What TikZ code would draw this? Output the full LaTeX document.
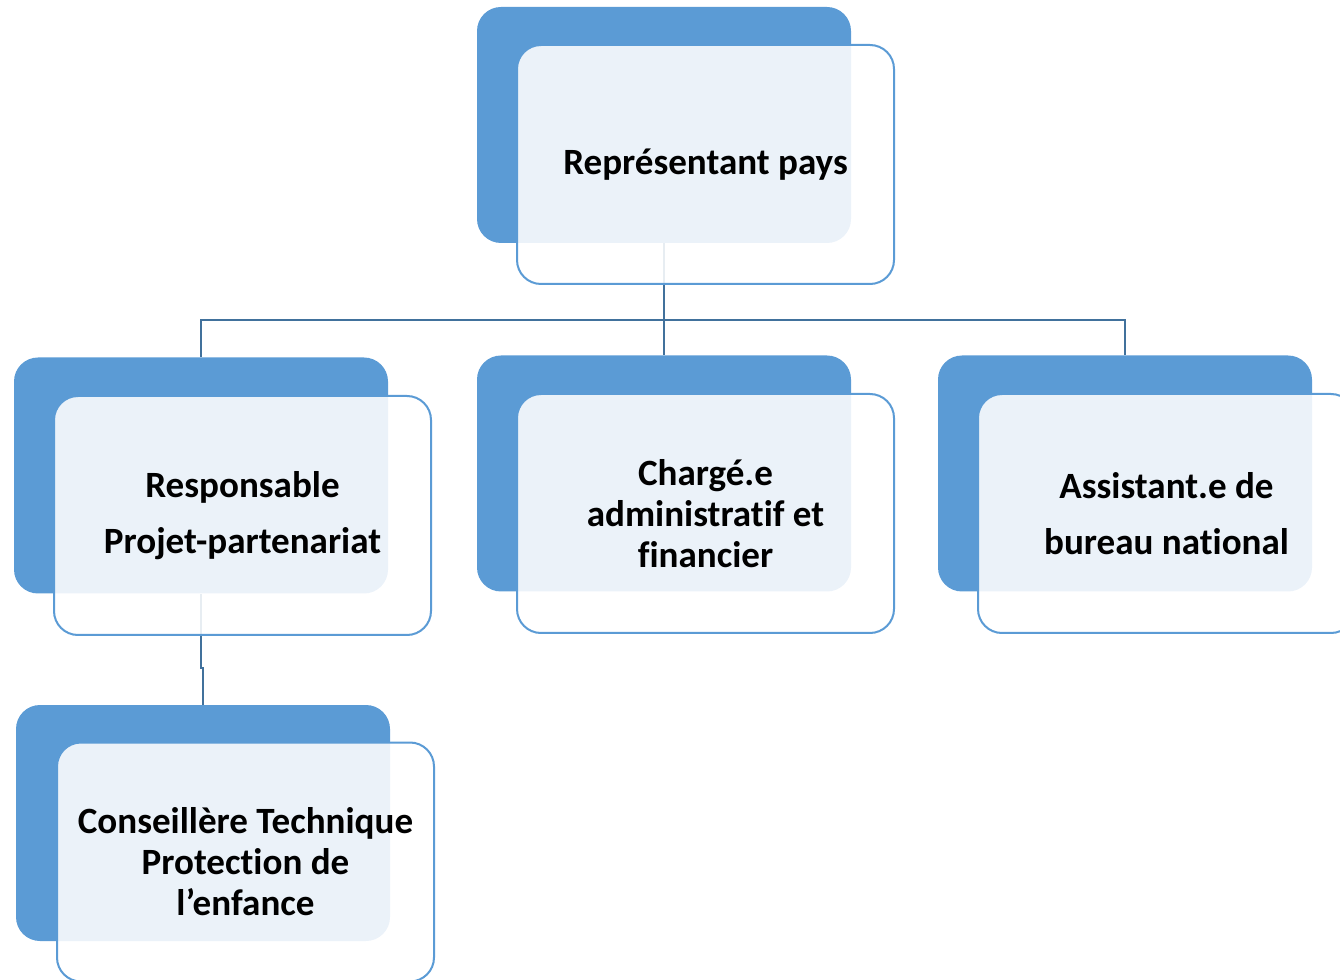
\documentclass[tikz,border=0pt]{standalone}
\usepackage{fontspec}
\setmainfont{Carlito}[Ligatures=NoCommon]
\usetikzlibrary{calc}
\definecolor{boxblue}{HTML}{5B9BD5}
\definecolor{linkblue}{HTML}{41719C}
\tikzset{every picture/.style={line width=0.75pt}}
\tikzset{
  backbox/.style={draw=none, fill=boxblue, rounded corners=18pt, minimum width=280.5pt, minimum height=177pt, inner sep=0pt},
  frontbox/.style={draw=boxblue, line width=1.5pt, fill=white, fill opacity=0.88, text opacity=1, rounded corners=18pt, minimum width=282.75pt, minimum height=179.25pt, inner sep=0pt, align=center, font=\bfseries\fontsize{27.8}{30.75}\selectfont},
  link/.style={draw=linkblue, line width=1.5pt},
}

\begin{document}
\begin{tikzpicture}[x=0.75pt,y=0.75pt,yscale=-1,xscale=1]
\useasboundingbox (0,0) rectangle (1340,980);

%Shape: back boxes
\node[backbox] (repB) at (664,125) {};
\node[backbox] (respB) at (201,475.5) {};
\node[backbox] (chB) at (664,473.5) {};
\node[backbox] (assB) at (1125,473.5) {};
\node[backbox] (consB) at (203,823) {};

%Straight Lines: connectors, under the front boxes
\coordinate (bus) at (664,320);
\draw[link] (repB.south) -- (bus);
\draw[link] (respB.north) |- (bus) -| (assB.north);
\draw[link] (bus) -- (chB.north);
\draw[link] (respB.south) |- ($(consB.north)+(0,-37)$) -- (consB.north);

% Text Node: front boxes
\node[frontbox] (rep) at ($(repB.center)+(41.5,39.5)$) {Représentant pays};
\node[frontbox] (resp) at ($(respB.center)+(41.5,40)$) {Responsable\\[11.25pt]Projet-partenariat};
\node[frontbox] (ch) at ($(chB.center)+(41.5,40)$) {Chargé.e\\administratif et\\financier};
\node[frontbox] (ass) at ($(assB.center)+(41.5,40)$) {Assistant.e de\\[11.25pt]bureau national};
\node[frontbox] (cons) at ($(consB.center)+(42.5,39)$) {Conseillère Technique\\Protection de\\l’enfance};

\end{tikzpicture}
\end{document}
